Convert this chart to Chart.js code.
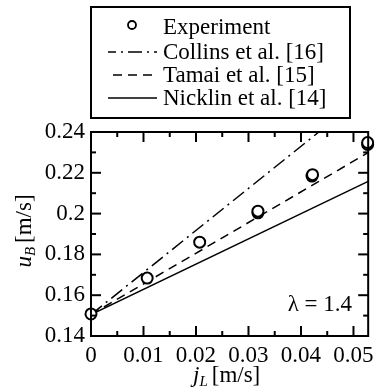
<!DOCTYPE html>
<html>
<head>
<meta charset="utf-8">
<script src="https://cdn.jsdelivr.net/npm/chart.js@4.4.0/dist/chart.umd.min.js"></script>
<style>
  html, body { margin: 0; padding: 0; background: #fff; }
</style>
</head>
<body>
<canvas id="bubbleChart" width="380" height="389"></canvas>
<script>
// experiment (pairs of nearly overlapping runs)
const expX = [0, 0.0107, 0.0207, 0.0318, 0.0318, 0.0421, 0.0422, 0.0527, 0.0527];
const expY = [0.1508, 0.1684, 0.1860, 0.2004, 0.2012, 0.2184, 0.2191, 0.2339, 0.2348];

// correlations
const collinsX = [0, 0.0434];
const collinsY = [0.1505, 0.24];
const tamaiX = [0, 0.0528];
const tamaiY = [0.1505, 0.2299];
const nicklinX = [0, 0.0528];
const nicklinY = [0.1505, 0.2158];

// axes
const xMajor = [0, 0.01, 0.02, 0.03, 0.04, 0.05];
const xLabels = ['0', '0.01', '0.02', '0.03', '0.04', '0.05'];
const xMinor = [0.005, 0.015, 0.025, 0.035, 0.045];
const yMajor = [0.14, 0.16, 0.18, 0.2, 0.22, 0.24];
const yLabels = ['0.14', '0.16', '0.18', '0.2', '0.22', '0.24'];
const yMinor = [0.15, 0.17, 0.19, 0.21, 0.23];

const SERIF = '"Liberation Serif", "Times New Roman", serif';
const FS = 23;   // main text size
const SUB = 15;  // subscript size

function pts(xs, ys) {
    return xs.map((x, i) => ({ x: x, y: ys[i] }));
}

const framePlugin = {
    id: 'frame',
    afterDraw(chart) {
        const ctx = chart.ctx;
        const a = chart.chartArea;
        const xs = chart.scales.x, ys = chart.scales.y;
        ctx.save();
        ctx.strokeStyle = '#000';
        ctx.lineWidth = 2;
        ctx.strokeRect(a.left, a.top, a.right - a.left, a.bottom - a.top);

        // inward ticks on all four sides
        const seg = (x1, y1, x2, y2) => {
            ctx.beginPath(); ctx.moveTo(x1, y1); ctx.lineTo(x2, y2); ctx.stroke();
        };
        xMajor.concat(xMinor).forEach(v => {
            const len = xMajor.includes(v) ? 10 : 5;
            const px = xs.getPixelForValue(v);
            seg(px, a.bottom, px, a.bottom - len);
            seg(px, a.top, px, a.top + len);
        });
        yMajor.concat(yMinor).forEach(v => {
            const len = yMajor.includes(v) ? 10 : 5;
            const py = ys.getPixelForValue(v);
            seg(a.left, py, a.left + len, py);
            seg(a.right, py, a.right - len, py);
        });

        // legend box
        ctx.lineWidth = 2;
        ctx.strokeRect(91, 7, 259, 111);
        ctx.fillStyle = '#000';
        ctx.font = FS + 'px ' + SERIF;
        ctx.textBaseline = 'middle';
        ctx.textAlign = 'left';

        ctx.beginPath();
        ctx.arc(132, 25, 4, 0, Math.PI * 2);
        ctx.lineWidth = 1.8;
        ctx.stroke();
        ctx.fillText('Experiment', 163, 28);

        ctx.lineWidth = 1.5;
        ctx.setLineDash([14, 5, 2, 5]);
        ctx.lineDashOffset = 6;
        seg(108, 52, 157, 52);
        ctx.fillText('Collins et al. [16]', 163, 53);

        ctx.setLineDash([9, 6]);
        ctx.lineDashOffset = 0;
        seg(113, 75, 157, 75);
        ctx.fillText('Tamai et al. [15]', 163, 76);

        ctx.setLineDash([]);
        seg(108, 98, 157, 98);
        ctx.fillText('Nicklin et al. [14]', 163, 99);

        // lambda label
        ctx.textAlign = 'right';
        ctx.fillText('\u03bb = 1.4', 352, 305);

        // x title: j_L [m/s]
        ctx.textAlign = 'left';
        ctx.font = 'italic ' + FS + 'px ' + SERIF;
        let x0 = 193;
        ctx.fillText('j', x0, 376);
        x0 += ctx.measureText('j').width;
        ctx.font = 'italic ' + SUB + 'px ' + SERIF;
        ctx.fillText('L', x0, 382);
        x0 += ctx.measureText('L').width + 4;
        ctx.font = FS + 'px ' + SERIF;
        ctx.fillText('[m/s]', x0, 376);

        // y title: u_B [m/s]
        ctx.translate(25, 231);
        ctx.rotate(-Math.PI / 2);
        let w = 0;
        ctx.font = 'italic ' + FS + 'px ' + SERIF; w += ctx.measureText('u').width;
        ctx.font = 'italic ' + SUB + 'px ' + SERIF; w += ctx.measureText('B').width + 4;
        ctx.font = FS + 'px ' + SERIF; w += ctx.measureText('[m/s]').width;
        let s = -w / 2;
        ctx.font = 'italic ' + FS + 'px ' + SERIF;
        ctx.fillText('u', s, 0);
        s += ctx.measureText('u').width;
        ctx.font = 'italic ' + SUB + 'px ' + SERIF;
        ctx.fillText('B', s, 6);
        s += ctx.measureText('B').width + 4;
        ctx.font = FS + 'px ' + SERIF;
        ctx.fillText('[m/s]', s, 0);
        ctx.restore();
    }
};

document.addEventListener('DOMContentLoaded', function () {
    const ctx = document.getElementById('bubbleChart').getContext('2d');
    new Chart(ctx, {
        type: 'scatter',
        data: {
            datasets: [
                {
                    label: 'Experiment',
                    data: pts(expX, expY),
                    pointStyle: 'circle',
                    pointRadius: 5.5,
                    pointBorderWidth: 2,
                    borderColor: '#000',
                    backgroundColor: '#fff',
                    showLine: false,
                    clip: false
                },
                {
                    label: 'Collins et al. [16]',
                    data: pts(collinsX, collinsY),
                    showLine: true,
                    borderColor: '#000',
                    borderWidth: 1.5,
                    borderDash: [14, 5, 2, 5],
                    pointRadius: 0,
                    fill: false
                },
                {
                    label: 'Tamai et al. [15]',
                    data: pts(tamaiX, tamaiY),
                    showLine: true,
                    borderColor: '#000',
                    borderWidth: 1.5,
                    borderDash: [9, 6],
                    pointRadius: 0,
                    fill: false
                },
                {
                    label: 'Nicklin et al. [14]',
                    data: pts(nicklinX, nicklinY),
                    showLine: true,
                    borderColor: '#000',
                    borderWidth: 1.5,
                    pointRadius: 0,
                    fill: false
                }
            ]
        },
        options: {
            responsive: false,
            animation: false,
            devicePixelRatio: 1,
            layout: { padding: { top: 132, right: 6, left: 0, bottom: 0 } },
            plugins: {
                legend: { display: false },
                tooltip: { enabled: false }
            },
            scales: {
                x: {
                    type: 'linear',
                    min: 0,
                    max: 0.0528,
                    grid: { display: false, drawTicks: false },
                    border: { display: false },
                    afterBuildTicks: s => { s.ticks = xMajor.map(v => ({ value: v })); },
                    afterFit: s => { s.height = 53; },
                    ticks: {
                        autoSkip: false,
                        maxRotation: 0,
                        padding: 6,
                        color: '#000',
                        font: { family: SERIF, size: FS },
                        callback: (v, i) => xLabels[i]
                    }
                },
                y: {
                    type: 'linear',
                    min: 0.14,
                    max: 0.24,
                    grid: { display: false, drawTicks: false },
                    border: { display: false },
                    afterBuildTicks: s => { s.ticks = yMajor.map(v => ({ value: v })); },
                    afterFit: s => { s.width = 91; },
                    ticks: {
                        autoSkip: false,
                        padding: 6,
                        color: '#000',
                        font: { family: SERIF, size: FS },
                        callback: (v, i) => yLabels[i]
                    }
                }
            }
        },
        plugins: [framePlugin]
    });
});
</script>
</body>
</html>
